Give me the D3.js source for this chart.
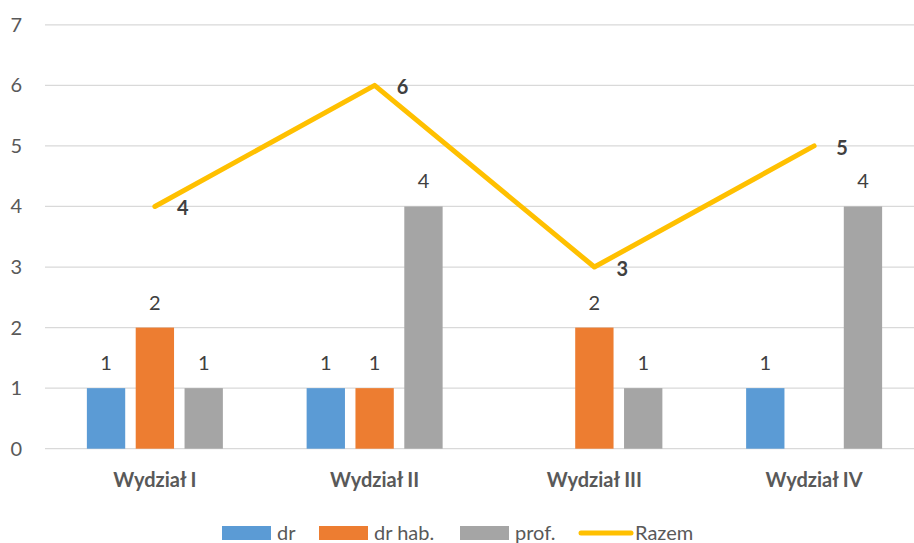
<!DOCTYPE html>
<html lang="pl">
<head>
<meta charset="UTF-8">
<title>Wydziały</title>
<script src="https://d3js.org/d3.v7.min.js"></script>
<style>
  body { margin: 0; background: #fff; }
  svg { font-family: Lato, "Open Sans", sans-serif; }
</style>
</head>
<body>
<svg id="chart" width="914" height="543"></svg>
<script>
const categories = ["Wydział I", "Wydział II", "Wydział III", "Wydział IV"];
const dr = [1, 1, null, 1];
const drHab = [2, 1, 2, null];
const prof = [1, 4, 1, 4];
const razem = [4, 6, 3, 5];
const yTicks = [0, 1, 2, 3, 4, 5, 6, 7];

const series = [
  {name: "dr", values: dr, color: "#5B9BD5"},
  {name: "dr hab.", values: drHab, color: "#ED7D31"},
  {name: "prof.", values: prof, color: "#A5A5A5"}
];

const fs = "20px";
const svg = d3.select("#chart");

const x = d3.scaleBand().domain(categories).range([45, 924]).padding(0);
const y = d3.scaleLinear().domain([0, 7]).range([448.7, 24.8]);

const groupW = 136;
const inner = d3.scaleBand()
  .domain(series.map(s => s.name))
  .range([0, groupW])
  .paddingInner(0.215);

// gridlines
svg.append("g")
  .selectAll("line")
  .data(yTicks)
  .join("line")
  .attr("x1", 45).attr("x2", 914)
  .attr("y1", d => y(d)).attr("y2", d => y(d))
  .attr("stroke", "#d9d9d9")
  .attr("stroke-width", 1.3);

// y tick labels
svg.append("g")
  .selectAll("text")
  .data(yTicks)
  .join("text")
  .attr("x", 22)
  .attr("y", d => y(d))
  .attr("dy", "0.35em")
  .attr("text-anchor", "end")
  .attr("fill", "#595959")
  .style("font-size", fs)
  .text(d => d);

// bars
series.forEach(s => {
  const g = svg.append("g");
  const pts = categories.map((c, i) => ({c, v: s.values[i]})).filter(d => d.v != null);
  const bx = d => x(d.c) + x.bandwidth() / 2 - groupW / 2 + inner(s.name);
  g.selectAll("rect")
    .data(pts)
    .join("rect")
    .attr("x", bx)
    .attr("y", d => y(d.v))
    .attr("width", inner.bandwidth())
    .attr("height", d => y(0) - y(d.v))
    .attr("fill", s.color);
  g.selectAll("text")
    .data(pts)
    .join("text")
    .attr("x", d => bx(d) + inner.bandwidth() / 2)
    .attr("y", d => y(d.v) - 18)
    .attr("text-anchor", "middle")
    .attr("fill", "#404040")
    .style("font-size", fs)
    .text(d => d.v);
});

// Razem line
const linePts = categories.map((c, i) => ({c, v: razem[i]}));
svg.append("path")
  .datum(linePts)
  .attr("fill", "none")
  .attr("stroke", "#FFC000")
  .attr("stroke-width", 5)
  .attr("stroke-linecap", "round")
  .attr("stroke-linejoin", "round")
  .attr("d", d3.line().x(d => x(d.c) + x.bandwidth() / 2).y(d => y(d.v)));

svg.append("g")
  .selectAll("text")
  .data(linePts)
  .join("text")
  .attr("x", d => x(d.c) + x.bandwidth() / 2 + 28)
  .attr("y", d => y(d.v) + 2)
  .attr("dy", "0.35em")
  .attr("text-anchor", "middle")
  .attr("fill", "#404040")
  .style("font-size", fs)
  .style("font-weight", "bold")
  .text(d => d.v);

// category labels
svg.append("g")
  .selectAll("text")
  .data(categories)
  .join("text")
  .attr("x", d => x(d) + x.bandwidth() / 2)
  .attr("y", 487)
  .attr("text-anchor", "middle")
  .attr("fill", "#595959")
  .style("font-size", fs)
  .style("font-weight", "bold")
  .text(d => d);

// legend
const legend = svg.append("g");
const legendItems = [
  {name: "dr", color: "#5B9BD5", type: "rect", x: 222},
  {name: "dr hab.", color: "#ED7D31", type: "rect", x: 319},
  {name: "prof.", color: "#A5A5A5", type: "rect", x: 460},
  {name: "Razem", color: "#FFC000", type: "line", x: 580}
];
legendItems.forEach(it => {
  if (it.type === "rect") {
    legend.append("rect")
      .attr("x", it.x).attr("y", 526)
      .attr("width", 49).attr("height", 14)
      .attr("fill", it.color);
  } else {
    legend.append("line")
      .attr("x1", it.x + 1).attr("x2", it.x + 51)
      .attr("y1", 533).attr("y2", 533)
      .attr("stroke", it.color)
      .attr("stroke-width", 5)
      .attr("stroke-linecap", "round");
  }
  legend.append("text")
    .attr("x", it.x + 55)
    .attr("y", 533)
    .attr("dy", "0.35em")
    .attr("fill", "#595959")
    .style("font-size", fs)
    .text(it.name);
});
</script>
</body>
</html>
